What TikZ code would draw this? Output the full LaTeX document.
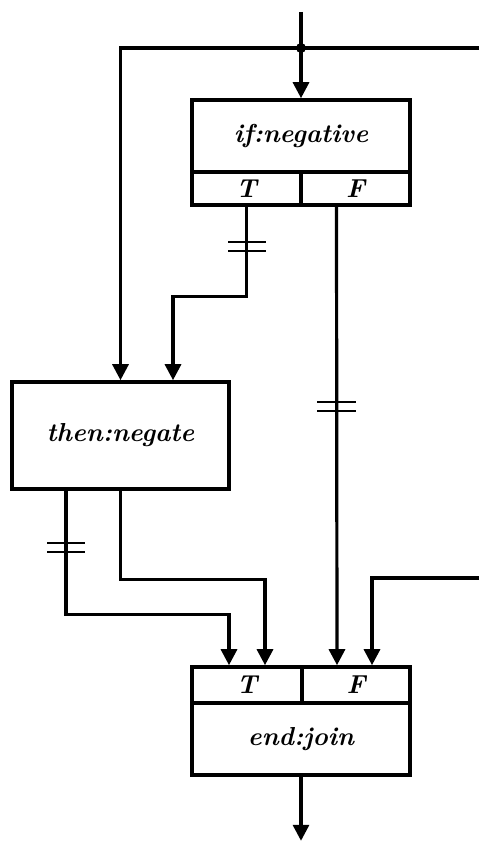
\documentclass[tikz,border=0pt]{standalone}
\usetikzlibrary{arrows.meta,calc}
\begin{document}
\begin{tikzpicture}[x=1pt,y={(0pt,-1pt)},
  box/.style={draw,line width=3.6pt,inner sep=0pt,font=\fontsize{26}{30}\selectfont\bfseries\itshape},
  conn/.style={line width=3.2pt},
  arr/.style={conn,-{Triangle[width=16pt,length=16pt]}},
  bars/.style={line width=2.4pt}]
\useasboundingbox (0,0) rectangle (479,842);
% if box
\node[box,minimum width=218pt,minimum height=72pt] (ifm) at (301,136) {if:negative};
\node[box,minimum width=109pt,minimum height=33pt] (ifT) at (246.5,188.5) {T};
\node[box,minimum width=109pt,minimum height=33pt] (ifF) at (355.5,188.5) {F};
% then box
\node[box,minimum width=217pt,minimum height=107pt] (then) at (120.5,435.5) {then:negate};
% end box
\node[box,minimum width=110pt,minimum height=36pt] (endT) at (247,685) {T};
\node[box,minimum width=108pt,minimum height=36pt] (endF) at (356,685) {F};
\node[box,minimum width=218pt,minimum height=72pt] (endm) at (301,739) {end:join};
% coordinates
\coordinate (top) at (301,12);
\coordinate (j) at (301,48);
\coordinate (rtop) at (479,48);
\coordinate (rmid) at (479,578);
% input
\draw[arr] (top) -- (ifm.north);
\fill (j) circle (5pt);
\draw[conn] (rtop) -- (j);
\draw[arr] (j) -| (then.north);
% if T -> then
\draw[arr] (ifT.south) -- ++(0,90) -| ([xshift=52.5pt]then.north);
\draw[bars] (228,242) -- (266,242) (228,251) -- (266,251);
% if F -> end F
\draw[arr] ([xshift=-19pt]ifF.south) -- ([xshift=-19pt]endF.north);
\draw[bars] (317,402) -- (356,402) (317,411) -- (356,411);
% then outputs
\draw[arr] ([xshift=-54.5pt]then.south) -- ++(0,124) -| ([xshift=-18pt]endT.north);
\draw[bars] (47,543) -- (85,543) (47,552) -- (85,552);
\draw[arr] (then.south) -- ++(0,89) -| ([xshift=18pt]endT.north);
% right return
\draw[arr] (rmid) -| ([xshift=16pt]endF.north);
% output
\draw[arr] (endm.south) -- ++(0,64);
\end{tikzpicture}
\end{document}
